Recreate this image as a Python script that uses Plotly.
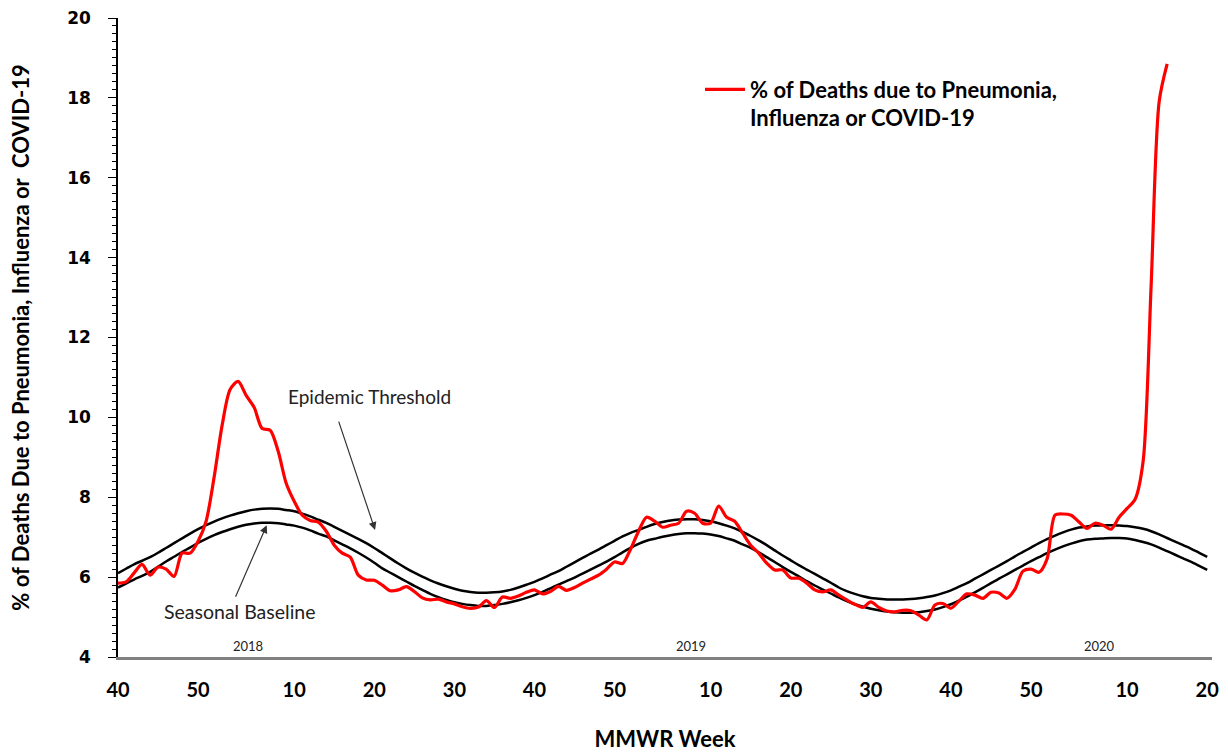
import plotly.graph_objects as go

# ---------------- data (MMWR week 40 of 2017 through week 20 of 2020) ----------------
season_years = [2017, 2018, 2019, 2020]
weeks_in_year = [52, 52, 52, 53]
start_week = 40
end_week = 20

pct_pic = [
    5.85, 5.88, 6.10, 6.32, 6.05, 6.25, 6.20, 6.02, 6.60, 6.60,
    6.90, 7.40, 8.50, 9.80, 10.70, 10.90, 10.55, 10.25, 9.72, 9.68,
    9.15, 8.35, 7.90, 7.55, 7.42, 7.38, 7.15, 6.80, 6.60, 6.50,
    6.05, 5.93, 5.92, 5.80, 5.66, 5.68, 5.76, 5.64, 5.48, 5.43,
    5.45, 5.38, 5.33, 5.26, 5.22, 5.25, 5.41, 5.24, 5.50, 5.47,
    5.53, 5.62, 5.68, 5.58, 5.64, 5.77, 5.67, 5.74, 5.85, 5.95,
    6.05, 6.20, 6.38, 6.34, 6.70, 7.15, 7.50, 7.40, 7.25, 7.30,
    7.35, 7.65, 7.60, 7.35, 7.35, 7.78, 7.50, 7.40, 7.10, 6.80,
    6.60, 6.35, 6.18, 6.18, 5.98, 5.97, 5.85, 5.68, 5.63, 5.68,
    5.55, 5.43, 5.32, 5.24, 5.38, 5.24, 5.15, 5.13, 5.17, 5.16,
    5.05, 4.93, 5.30, 5.34, 5.22, 5.40, 5.58, 5.55, 5.47, 5.62,
    5.60, 5.47, 5.70, 6.15, 6.20, 6.12, 6.45, 7.55, 7.58, 7.55,
    7.38, 7.22, 7.35, 7.30, 7.20, 7.50, 7.72, 7.95, 8.90, 13.30,
    17.90, 18.85,
]

seasonal_baseline = [
    5.74, 5.84, 5.94, 6.03, 6.13, 6.26, 6.39, 6.51, 6.63, 6.74,
    6.86, 6.96, 7.05, 7.13, 7.20, 7.26, 7.31, 7.34, 7.36, 7.36,
    7.35, 7.32, 7.29, 7.24, 7.17, 7.09, 7.02, 6.92, 6.82, 6.72,
    6.61, 6.49, 6.36, 6.22, 6.11, 6.00, 5.89, 5.78, 5.68, 5.58,
    5.50, 5.43, 5.37, 5.33, 5.30, 5.28, 5.28, 5.30, 5.33, 5.37,
    5.42, 5.48, 5.55, 5.63, 5.72, 5.81, 5.90, 5.99, 6.09, 6.19,
    6.29, 6.39, 6.50, 6.62, 6.73, 6.83, 6.91, 6.96, 7.01, 7.05,
    7.08, 7.10, 7.10, 7.09, 7.07, 7.03, 6.97, 6.91, 6.82, 6.73,
    6.62, 6.50, 6.38, 6.25, 6.13, 6.02, 5.90, 5.79, 5.69, 5.59,
    5.49, 5.40, 5.32, 5.26, 5.21, 5.17, 5.14, 5.12, 5.11, 5.11,
    5.12, 5.15, 5.19, 5.25, 5.32, 5.41, 5.51, 5.62, 5.73, 5.85,
    5.96, 6.07, 6.18, 6.29, 6.40, 6.50, 6.60, 6.69, 6.77, 6.84,
    6.90, 6.94, 6.96, 6.97, 6.98, 6.98, 6.97, 6.93, 6.88, 6.82,
    6.74, 6.65, 6.56, 6.47, 6.38, 6.28, 6.18,
]

epidemic_threshold = [
    6.10, 6.21, 6.32, 6.41, 6.50, 6.61, 6.73, 6.85, 6.97, 7.09,
    7.20, 7.30, 7.39, 7.47, 7.54, 7.60, 7.65, 7.69, 7.71, 7.72,
    7.71, 7.68, 7.65, 7.59, 7.52, 7.44, 7.36, 7.26, 7.16, 7.06,
    6.96, 6.85, 6.73, 6.60, 6.47, 6.34, 6.22, 6.11, 6.01, 5.92,
    5.84, 5.77, 5.71, 5.66, 5.63, 5.61, 5.61, 5.62, 5.64, 5.68,
    5.74, 5.81, 5.88, 5.97, 6.06, 6.15, 6.26, 6.37, 6.48, 6.59,
    6.69, 6.80, 6.91, 7.02, 7.11, 7.18, 7.26, 7.33, 7.38, 7.42,
    7.44, 7.45, 7.45, 7.43, 7.40, 7.35, 7.29, 7.22, 7.13, 7.03,
    6.92, 6.80, 6.67, 6.54, 6.42, 6.30, 6.19, 6.08, 5.97, 5.86,
    5.74, 5.65, 5.58, 5.52, 5.48, 5.46, 5.44, 5.44, 5.44, 5.45,
    5.47, 5.50, 5.54, 5.60, 5.67, 5.76, 5.85, 5.96, 6.07, 6.18,
    6.29, 6.40, 6.52, 6.63, 6.74, 6.85, 6.95, 7.04, 7.12, 7.19,
    7.24, 7.27, 7.29, 7.30, 7.30, 7.29, 7.28, 7.25, 7.21, 7.15,
    7.07, 6.98, 6.89, 6.80, 6.71, 6.61, 6.51,
]

year_labels = ["2018", "2019", "2020"]
legend_label = "% of Deaths due to Pneumonia,<br>Influenza or COVID-19"

# ---------------- derived week axis ----------------
week_numbers = []
week_years = []
for yr, nweeks in zip(season_years, weeks_in_year):
    first = start_week if yr == season_years[0] else 1
    last = end_week if yr == season_years[-1] else nweeks
    for w in range(first, last + 1):
        week_numbers.append(w)
        week_years.append(yr)
idx = list(range(len(week_numbers)))
tick_vals = [i for i, w in zip(idx, week_numbers) if w % 10 == 0]
tick_text = [str(week_numbers[i]) for i in tick_vals]
year_offset = {"2018": 3.2, "2019": 6.5, "2020": 5.6}
year_pos = []
for y in year_labels:
    members = [i for i, yy in zip(idx, week_years) if yy == int(y)]
    year_pos.append(members[0] + year_offset[y])

fig = go.Figure()
fig.add_trace(go.Scatter(x=idx[:len(seasonal_baseline)], y=seasonal_baseline, mode="lines",
                         line=dict(color="black", width=2.5, shape="spline", smoothing=0.8),
                         showlegend=False, hoverinfo="skip"))
fig.add_trace(go.Scatter(x=idx[:len(epidemic_threshold)], y=epidemic_threshold, mode="lines",
                         line=dict(color="black", width=2.5, shape="spline", smoothing=0.8),
                         showlegend=False, hoverinfo="skip"))
fig.add_trace(go.Scatter(x=idx[:len(pct_pic)], y=pct_pic, mode="lines", name=legend_label,
                         line=dict(color="#ff0000", width=3.2, shape="spline", smoothing=0.8)))

fig.update_layout(
    width=1228, height=752,
    margin=dict(l=118, r=16, t=18, b=95),
    paper_bgcolor="white", plot_bgcolor="white",
    font=dict(family="Lato, Carlito, sans-serif", color="black"),
    legend=dict(x=0.532, y=0.921, xanchor="left", yanchor="top", valign="top",
                bgcolor="rgba(0,0,0,0)", itemwidth=40,
                font=dict(family="Lato, sans-serif", size=22, color="black", weight="bold"),
                tracegroupgap=0),
    showlegend=True,
)
fig.update_xaxes(
    range=[0, 136.6], tickmode="array", tickvals=tick_vals, ticktext=tick_text,
    showline=True, linecolor="#808080", linewidth=2.5, ticks="", showgrid=False, zeroline=False,
    tickfont=dict(family="Lato, sans-serif", size=20, color="black", weight="bold"),
    ticklabelstandoff=13, automargin=False,
    title=dict(text="<b>MMWR Week</b>", font=dict(family="Lato, sans-serif", size=22, color="black"), standoff=36),
)
fig.update_yaxes(
    range=[4, 20], dtick=2, showline=True, linecolor="black", linewidth=1.5,
    ticks="outside", ticklen=8, tickwidth=1.2, tickcolor="black",
    minor=dict(dtick=0.2, ticks="outside", ticklen=4, tickwidth=1, tickcolor="black"),
    showgrid=False, zeroline=False, automargin=False,
    tickfont=dict(family="DejaVu Sans, Verdana, sans-serif", size=17, color="black", weight="bold"),
    ticklabelstandoff=14,
    title=dict(text="<b>% of Deaths Due to Pneumonia, Influenza or  COVID-19</b>",
               font=dict(family="Lato, sans-serif", size=22, color="black"), standoff=31),
)

# annotations: labels with arrows
fig.add_annotation(x=32.1, y=7.18, ax=27.5, ay=9.93, axref="x", ayref="y", text="",
                   showarrow=True, arrowhead=2, arrowsize=1.3, arrowwidth=1.2, arrowcolor="#333333")
fig.add_annotation(x=31.4, y=10.53, text="Epidemic Threshold", showarrow=False,
                   font=dict(family="Lato, sans-serif", size=19, color="#222222"))
fig.add_annotation(x=18.57, y=7.30, ax=14.6, ay=5.47, axref="x", ayref="y", text="",
                   showarrow=True, arrowhead=2, arrowsize=1.3, arrowwidth=1.2, arrowcolor="#333333")
fig.add_annotation(x=15.2, y=5.13, text="Seasonal Baseline", showarrow=False,
                   font=dict(family="Lato, sans-serif", size=19.5, color="#222222"))
for lbl, xp in zip(year_labels, year_pos):
    fig.add_annotation(x=xp, y=4, text=lbl, showarrow=False, yanchor="bottom", yshift=1,
                       font=dict(family="Lato, sans-serif", size=13, color="#222222"))

fig.write_html("out.html", config={"displayModeBar": False},
               post_script="document.body.style.margin='0';")
